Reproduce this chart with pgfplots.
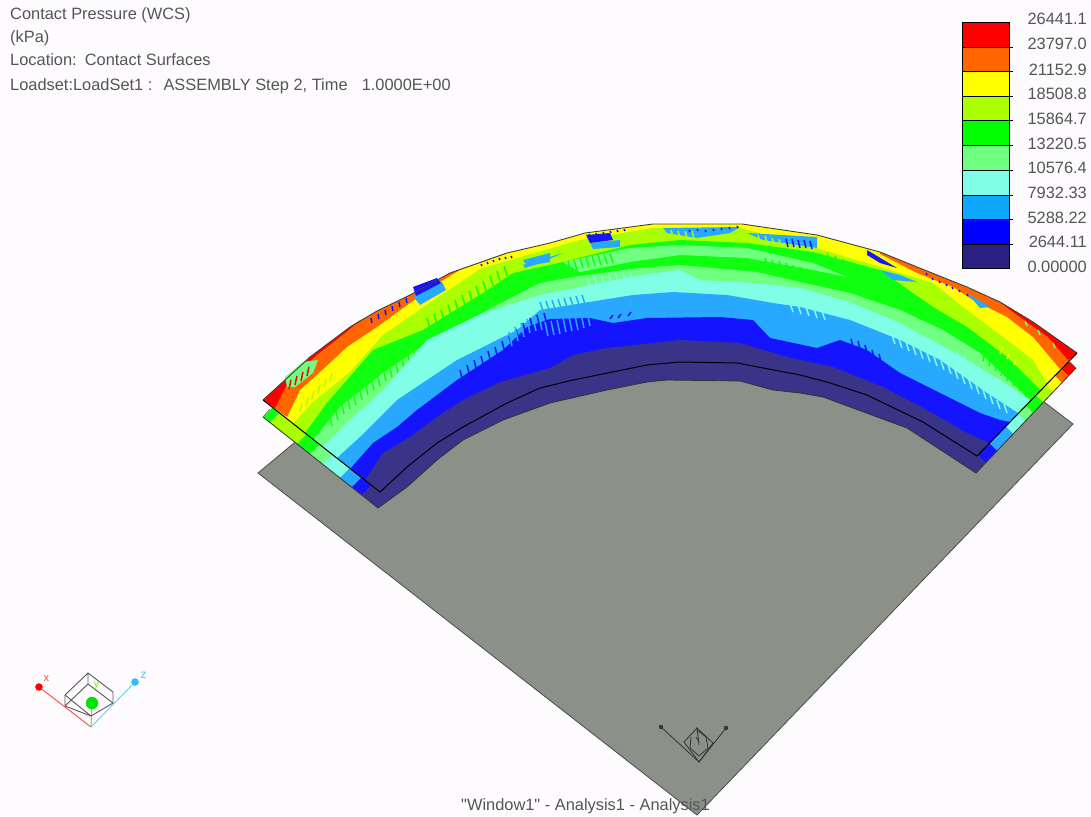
\documentclass[border=0pt]{standalone}
\usepackage{pgfplots}
\pgfplotsset{compat=1.18}
\usepackage{fontspec}
\setmainfont{Liberation Sans}
\newfontfamily\plainf{Liberation Sans}
\definecolor{bg}{HTML}{FEFBFF}
\definecolor{cR}{HTML}{FF0000}
\definecolor{cO}{HTML}{FF6600}
\definecolor{cY}{HTML}{FFFF00}
\definecolor{cL}{HTML}{AAFF00}
\definecolor{cG}{HTML}{10FF10}
\definecolor{cP}{HTML}{70FF80}
\definecolor{cC}{HTML}{80FFE6}
\definecolor{cS}{HTML}{28A8FF}
\definecolor{cB}{HTML}{1414FF}
\definecolor{cD}{HTML}{3A3488}
\definecolor{lgS}{HTML}{10A8FF}
\definecolor{lgB}{HTML}{0000FF}
\definecolor{lgD}{HTML}{2A2080}
\definecolor{plate}{HTML}{8B9188}
\definecolor{txt}{HTML}{555555}
% a layer: its outer contour, then back along the inner edge of the upper sheet
\newcommand\layer[2]{\addplot[fill=#1,draw=none] coordinates {#2 (977,456) (923,422) (867,395) (827,382) (800,375) (737,363) (680,362) (647,365) (573,380) (540,388) (507,403) (463,427) (437,443) (407,467) (380,492)} --cycle;}
\newcommand\patch[2]{\addplot[fill=#1,draw=none] coordinates {#2} --cycle;}
\newcommand\legbox[3]{\addplot[fill=#1,draw=black,line width=0.8pt] coordinates {(962,#2) (1009,#2) (1009,#3) (962,#3)} --cycle;}
% hatched streaks of the contour plot: colour, direction, foot of each streak
\newcommand\streaks[4]{\addplot[quiver={u=#2,v=#3},color=#1,line width=1.5pt] coordinates {#4};}
\begin{document}
\begin{tikzpicture}
\begin{axis}[scale only axis,width=1091pt,height=816pt,xmin=0,xmax=1091,ymin=0,ymax=816,y dir=reverse,hide axis,clip=true]
\patch{bg}{(0,0) (1091,0) (1091,816) (0,816)}
% plate
\addplot[fill=plate,draw=black!70,line width=0.8pt] coordinates {(258,473) (697,815) (1073,424) (1035,395) (850,300) (500,300) (300,438)} --cycle;
% lower sheet, left end
\patch{cG}{(263,417) (270,423) (290,403) (283,397)}
\patch{cL}{(270,423) (297,444) (317,424) (290,403)}
\patch{cG}{(297,444) (310,454) (330,434) (317,424)}
\patch{cP}{(310,454) (322,464) (342,444) (330,434)}
\patch{cC}{(322,464) (340,478) (360,458) (342,444)}
\patch{cS}{(340,478) (352,487) (372,467) (360,458)}
\patch{cB}{(352,487) (362,495) (382,475) (372,467)}
\patch{cD}{(362,495) (378,508) (398,488) (382,475)}
% lower sheet, right end
\patch{cR}{(1076,368) (1068,376) (1048,356) (1056,348)}
\patch{cO}{(1068,376) (1062,383) (1042,363) (1048,356)}
\patch{cY}{(1062,383) (1053,392) (1033,372) (1042,363)}
\patch{cL}{(1053,392) (1043,403) (1023,383) (1033,372)}
\patch{cG}{(1043,403) (1033,413) (1013,393) (1023,383)}
\patch{cP}{(1033,413) (1025,421) (1005,401) (1013,393)}
\patch{cC}{(1025,421) (1013,434) (993,414) (1005,401)}
\patch{cS}{(1013,434) (997,451) (977,431) (993,414)}
\patch{cB}{(997,451) (985,463) (965,443) (977,431)}
\patch{cD}{(985,463) (976,473) (956,453) (965,443)}
% upper sheet
\layer{cY}{(263,400) (285,380) (310,357) (350,327) (377,311) (410,295) (450,273) (507,253) (550,243) (585,233) (653,224) (742,224) (817,235) (880,252) (917,267) (967,287) (1000,302) (1033,322) (1077,353)}
% orange and red along the outer arc
\patch{cO}{(263,400) (285,380) (310,357) (350,327) (377,311) (410,295) (450,273) (507,253) (483,262) (463,268) (440,282) (410,303) (377,327) (347,347) (320,372) (300,390) (287,417)}
\patch{cO}{(880,252) (917,267) (967,287) (1000,302) (1033,322) (1077,353) (1060,369) (1033,337) (1007,317) (973,300) (953,287) (917,273) (880,254)}
\patch{cR}{(263,400) (285,380) (310,357) (350,327) (362,319) (345,333) (318,354) (298,372) (285,388) (275,408)}
\patch{cR}{(997,300) (1000,302) (1033,322) (1077,353) (1068,360) (1048,337) (1017,315)}
\patch{cP}{(285,377) (303,362) (318,360) (313,373) (295,387) (287,387)}
\streaks{cR}{2}{-9}{(289,389) (295,385) (301,381) (307,376)}
\streaks{cP}{-2}{-5}{(1040,335) (1055,348) (1027,326)}
% nested bands
\layer{cL}{(293,424) (313,402) (350,372) (383,335) (437,298) (480,269) (517,258) (580,240) (653,228) (740,228) (813,247) (880,267) (933,283) (967,310) (1007,340) (1033,360) (1047,383)}
\streaks{cL}{2}{-8}{(300,412) (306,406) (312,399) (318,393) (324,387) (330,381)}
\layer{cG}{(305,433) (327,403) (373,350) (423,330) (483,293) (513,273) (563,262) (630,245) (680,240) (747,243) (813,252) (880,270) (933,307) (967,327) (1007,357) (1040,390)}
\streaks{cG}{-3}{-10}{(430,328) (437,324) (444,320) (451,315) (458,310) (465,305) (472,301) (479,296) (486,291) (493,286) (500,281) (507,276)}
\streaks{cG}{-3}{-9}{(830,262) (838,265) (846,268) (854,271) (862,275) (870,278) (878,282) (886,285) (894,289) (902,293)}
\patch{cP}{(563,262) (630,248) (680,245) (747,248) (813,263) (847,277) (813,270) (747,258) (680,255) (630,262) (580,272)}
\streaks{cG}{-3}{-10}{(565,272) (571,271) (577,270) (583,268) (589,267) (595,266) (601,265) (607,264) (613,263) (768,268) (775,270) (782,271) (789,273) (796,275) (803,277) (810,279)}
\layer{cP}{(313,440) (340,407) (383,373) (427,343) (497,305) (540,283) (573,277) (640,268) (680,265) (757,272) (800,282) (850,293) (900,310) (943,330) (980,353) (1030,400)}
\streaks{cG}{2}{9}{(330,417) (336,411) (342,405) (348,400) (354,396) (360,391) (366,386) (372,381) (378,377) (384,372) (390,368) (396,364) (402,359) (408,355) (414,351) (420,347)}
\streaks{cG}{-2}{9}{(985,352) (991,357) (997,362) (1003,367) (1009,372) (1015,377) (1021,382) (1027,388)}
\streaks{cY}{-2}{6}{(1002,348) (1009,353) (1016,359)}
\layer{cC}{(322,447) (350,420) (383,390) (427,340) (483,313) (540,295) (640,275) (680,270) (700,280) (757,283) (800,288) (850,302) (900,323) (950,350) (1000,380) (1030,400)}
\streaks{cC}{-3}{-9}{(590,286) (597,285) (604,283) (611,282) (618,281) (625,279) (632,278) (960,360) (967,365) (974,370) (981,375) (988,380) (995,385) (1002,390) (1009,394)}
\layer{cS}{(337,458) (360,437) (397,400) (457,360) (517,330) (540,310) (583,303) (633,295) (673,292) (727,295) (773,303) (800,307) (850,320) (900,340) (940,360) (987,393) (1018,413)}
\streaks{cC}{3}{9}{(892,335) (899,339) (906,342) (913,346) (920,350) (927,353) (934,357) (941,361) (948,365) (955,370) (962,375) (969,380) (976,385) (983,390) (990,395) (997,400) (1004,404) (790,303) (798,305) (806,307) (814,309) (822,311)}
\streaks{cS}{-3}{-9}{(543,311) (549,310) (555,309) (561,308) (567,307) (573,306) (579,305) (585,304)}
\layer{cB}{(350,469) (373,443) (397,427) (417,410) (457,380) (503,350) (527,327) (550,319) (590,318) (613,323) (647,318) (720,317) (753,320) (770,338) (817,348) (840,340) (867,350) (900,373) (940,393) (980,413) (1000,420) (1010,422)}
\streaks{cB}{-2}{-8}{(462,378) (469,373) (476,368) (483,364) (490,359) (497,355) (504,349) (511,344) (518,337) (525,331) (532,326) (539,323) (546,321) (853,347) (860,349) (867,353) (874,358) (881,362)}
\streaks{cS}{-3}{-14}{(512,346) (518,341) (524,337) (530,333) (536,331) (542,330) (548,336) (554,335) (560,334) (566,332) (572,331) (578,330) (584,328) (590,326)}
\streaks{cB}{3}{-4}{(610,319) (618,318) (628,316)}
% dark band, over both sheets
\addplot[fill=cD,draw=none] coordinates {(365,480) (383,453) (410,437) (437,417) (463,400) (500,382) (550,368) (573,355) (607,348) (680,340) (740,343) (780,355) (800,360) (833,367) (883,387) (927,410) (967,433) (989,443) (977,456) (976,473) (907,428) (823,397) (800,393) (773,390) (740,381) (667,380) (647,382) (607,390) (550,403) (503,420) (463,440) (437,460) (407,487) (378,508) (380,492)} --cycle;
% blue and light blue patches near the outer arc
\patch{cS}{(413,296) (442,282) (446,290) (420,305)}
\patch{cB}{(413,287) (437,278) (441,283) (416,296)}
\streaks{cB}{-1}{-5}{(372,323) (379,319) (386,315) (393,311) (400,307) (407,303)}
\patch{cS}{(590,243) (620,240) (620,247) (593,249)}
\patch{cB}{(586,235) (610,233) (613,240) (590,243)}
\patch{cS}{(663,228) (740,227) (730,233) (697,238) (667,233)}
\streaks{cL}{-2}{-7}{(666,237) (673,237) (680,238) (687,238) (694,238)}
\patch{cS}{(747,233) (817,237) (817,248) (763,240)}
\streaks{cL}{-2}{-7}{(760,242) (767,243) (774,245) (781,246)}
\streaks{cB}{-2}{-8}{(788,247) (794,247) (800,248) (806,248) (812,249)}
\streaks{cB}{-1}{-2}{(482,266) (488,264) (494,262) (500,260) (506,259) (512,258) (590,236) (597,235) (604,234) (611,233) (618,232) (625,231) (690,232) (698,231) (706,232) (714,231) (722,230) (730,229) (738,228) (927,275) (933,280) (940,283) (947,286) (953,289) (960,292) (968,296)}
\patch{cS}{(523,265) (563,253) (540,263) (525,268)}
\patch{cB}{(867,250) (897,268) (880,263) (867,255)}
\patch{cS}{(880,270) (900,275) (917,282) (893,280)}
\patch{cS}{(967,293) (990,307) (980,308)}
\patch{cS}{(523,260) (550,253) (550,262) (527,266)}
% outlines
\addplot[draw=black!75,line width=0.9pt] coordinates {(263,400) (285,380) (310,357) (350,327) (377,311) (410,295) (450,273) (507,253) (550,243) (585,233) (653,224) (742,224) (817,235) (880,252) (917,267) (967,287) (1000,302) (1033,322) (1077,353)};
\addplot[draw=black,line width=1pt] coordinates {(263,400) (380,492) (407,467) (437,443) (463,427) (507,403) (540,388) (573,380) (647,365) (680,362) (737,363) (800,375) (827,382) (867,395) (923,422) (977,456) (1077,353)};
\addplot[draw=black!80,line width=0.8pt] coordinates {(263,417) (378,508) (407,487) (437,460) (463,440) (503,420) (550,403) (607,390) (647,382) (667,380) (740,381) (773,390) (800,393) (823,397) (907,428) (976,473) (1076,368)};
\addplot[draw=black!60,line width=0.6pt] coordinates {(263,417) (270,409)};
\addplot[draw=black!60,line width=0.6pt] coordinates {(1076,368) (1068,360)};
% legend
\legbox{cR}{22}{47}
\legbox{cO}{47}{71}
\legbox{cY}{71}{96}
\legbox{cL}{96}{120}
\legbox{lgB!0!green}{120}{145}
\legbox{cP}{145}{170}
\legbox{cC}{170}{195}
\legbox{lgS}{195}{219}
\legbox{lgB}{219}{244}
\legbox{lgD}{244}{268}
\addplot[draw=black,line width=0.8pt] coordinates {(1009,47) (1013,47)};
\addplot[draw=black,line width=0.8pt] coordinates {(1009,71) (1013,71)};
\addplot[draw=black,line width=0.8pt] coordinates {(1009,96) (1013,96)};
\addplot[draw=black,line width=0.8pt] coordinates {(1009,120) (1013,120)};
\addplot[draw=black,line width=0.8pt] coordinates {(1009,145) (1013,145)};
\addplot[draw=black,line width=0.8pt] coordinates {(1009,170) (1013,170)};
\addplot[draw=black,line width=0.8pt] coordinates {(1009,195) (1013,195)};
\addplot[draw=black,line width=0.8pt] coordinates {(1009,219) (1013,219)};
\addplot[draw=black,line width=0.8pt] coordinates {(1009,244) (1013,244)};
% triad, lower left
\addplot[draw=red!70,line width=0.9pt] coordinates {(39,687) (91,727)};
\addplot[draw=cyan!60,line width=0.9pt] coordinates {(135,682) (91,727)};
\addplot[draw=green!80!yellow,line width=0.9pt] coordinates {(92,703) (91,727)};
\addplot[draw=black!65,line width=0.9pt] coordinates {(88,673) (65,695) (65,706) (91,716) (113,703) (113,692) (88,673) (88,684) (65,706)};
\addplot[draw=black!65,line width=0.9pt] coordinates {(88,684) (113,703)};
\addplot[draw=black!65,line width=0.9pt] coordinates {(65,695) (91,716)};
\addplot[only marks,mark=*,mark size=3.5pt,color=red,mark options={draw=red,fill=red}] coordinates {(39,687)};
\addplot[only marks,mark=*,mark size=3.5pt,color=cyan,mark options={draw=cyan!80!white,fill=cyan!80!white}] coordinates {(135,682)};
\addplot[only marks,mark=*,mark size=6pt,mark options={draw=green!90!black,fill=green!90!black}] coordinates {(92,703)};
% triad on the plate
\addplot[draw=black!80,line width=0.8pt] coordinates {(661,727) (699,762) (726,728)};
\addplot[draw=black!80,line width=0.8pt] coordinates {(697,728) (684,742) (699,762) (713,743) (697,728) (699,745)};
\addplot[draw=black!80,line width=0.8pt] coordinates {(691,737) (690,748) (699,756) (708,748) (706,737) (697,730)};
\addplot[draw=black!80,line width=0.8pt] coordinates {(696,737) (699,742)};
\addplot[only marks,mark=*,mark size=2pt,mark options={draw=black!80,fill=black!80}] coordinates {(661,727) (726,728)};
% text
\node[anchor=west,text=cR!70,font=\fontsize{11}{11}\selectfont] at (axis cs:40,679) {x};
\node[anchor=west,text=cyan!70,font=\fontsize{12}{12}\selectfont] at (axis cs:137,675) {z};
\node[anchor=west,text=green!60!yellow,font=\fontsize{11}{11}\selectfont] at (axis cs:90,686) {y};
\begin{scope}[every node/.style={anchor=base west,text=txt,inner sep=0pt,font=\fontsize{16.4}{18}\selectfont}]
\node at (axis cs:10,20) {Contact Pressure (WCS)};
\node at (axis cs:10,43) {(kPa)};
\node at (axis cs:10,66) {Location:\hspace{2pt} Contact Surfaces};
\node at (axis cs:10,90) {Loadset:LoadSet1 :\ \ \hspace{2pt}ASSEMBLY Step 2, Time\ \ \hspace{5pt}1.0000E+00};
\node at (axis cs:461,810) {\plainf "Window1" - Analysis1 - Analysis1};
\end{scope}
\begin{scope}[every node/.style={anchor=base east,text=txt,inner sep=0pt,font=\fontsize{16.4}{18}\selectfont}]
\node at (axis cs:1087,25) {26441.1};
\node at (axis cs:1087,50) {23797.0};
\node at (axis cs:1087,75) {21152.9};
\node at (axis cs:1087,99) {18508.8};
\node at (axis cs:1087,124) {15864.7};
\node at (axis cs:1087,149) {13220.5};
\node at (axis cs:1087,173) {10576.4};
\node at (axis cs:1087,198) {7932.33};
\node at (axis cs:1087,223) {5288.22};
\node at (axis cs:1087,247) {2644.11};
\node at (axis cs:1087,272) {0.00000};
\end{scope}
\end{axis}
\end{tikzpicture}
\end{document}
